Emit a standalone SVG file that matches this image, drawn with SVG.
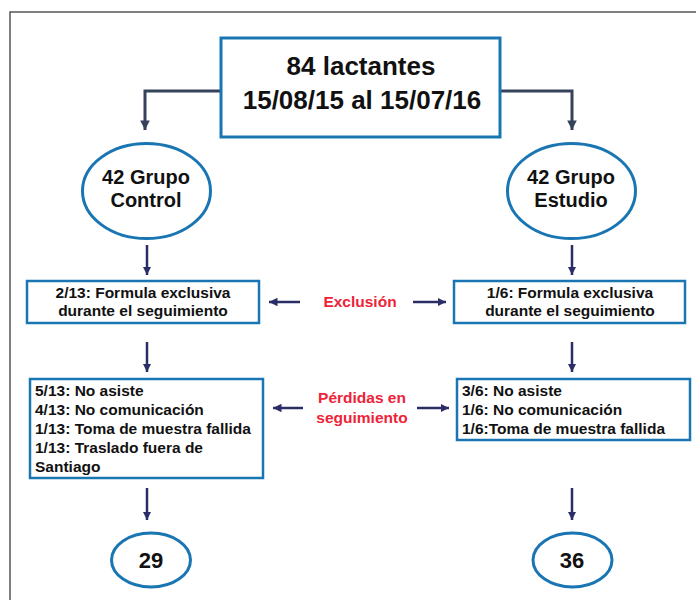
<svg xmlns="http://www.w3.org/2000/svg" width="696" height="600" viewBox="0 0 696 600">
<defs>
<marker id="ah" viewBox="0 0 10 10" refX="10" refY="5" markerWidth="3.4" markerHeight="3.4" orient="auto" markerUnits="strokeWidth">
<path d="M0,0 L10,5 L0,10 z" fill="#2b2e66"/>
</marker>
<marker id="ah2" viewBox="0 0 10 10" refX="10" refY="5" markerWidth="3.2" markerHeight="3.2" orient="auto" markerUnits="strokeWidth">
<path d="M0,0 L10,5 L0,10 z" fill="#34425a"/>
</marker>
</defs>
<style>
.frame{fill:none;stroke:#555;stroke-width:1.5}
.box{fill:#fff;stroke:#1a76b3;stroke-width:3}
.sbox{fill:#fff;stroke:#1a76b3;stroke-width:2.5}
.t{font-family:"Liberation Sans",Arial,sans-serif;font-weight:bold;fill:#111}
.s{font-size:15.5px}
.red{font-family:"Liberation Sans",Arial,sans-serif;font-weight:bold;fill:#ee2238;font-size:15.5px;text-anchor:middle}
.c{fill:none;stroke:#2b2e66;stroke-width:2.5;marker-end:url(#ah)}
.ct{fill:none;stroke:#34425a;stroke-width:3;marker-end:url(#ah2)}
</style>
<rect width="696" height="600" fill="#fff"/>
<path class="frame" d="M10,620 L10,12 L710,12"/>
<g id="connectors">
<path class="ct" d="M220,91 L145,91 L145,130"/>
<path class="ct" d="M500,91 L572,91 L572,130"/>
<path class="c" d="M147,245 L147,275"/>
<path class="c" d="M572,245 L572,275"/>
<path class="c" d="M300,302 L269,302"/>
<path class="c" d="M413,302 L446,302"/>
<path class="c" d="M147,342 L147,372"/>
<path class="c" d="M572,342 L572,372"/>
<path class="c" d="M303,408 L273,408"/>
<path class="c" d="M417,408 L449,408"/>
<path class="c" d="M147,488 L147,520"/>
<path class="c" d="M572,488 L572,520"/>
</g>
<g id="top">
<rect class="box" x="221" y="38" width="279" height="99"/>
<text class="t" x="361" y="75" font-size="26" text-anchor="middle">84 lactantes</text>
<text class="t" x="362" y="109" font-size="26" text-anchor="middle">15/08/15 al 15/07/16</text>
</g>
<g id="control">
<ellipse class="box" cx="146.5" cy="191" rx="64" ry="47.5"/>
<text class="t" x="146" y="184" font-size="20" text-anchor="middle">42 Grupo</text>
<text class="t" x="146" y="207" font-size="20" text-anchor="middle">Control</text>
</g>
<g id="estudio">
<ellipse class="box" cx="571.5" cy="191" rx="64" ry="47.5"/>
<text class="t" x="571" y="184" font-size="20" text-anchor="middle">42 Grupo</text>
<text class="t" x="571" y="207" font-size="20" text-anchor="middle">Estudio</text>
</g>
<g id="excl-control">
<rect class="sbox" x="27" y="281" width="232" height="42"/>
<text class="t s" x="143" y="298" text-anchor="middle">2/13: Formula exclusiva</text>
<text class="t s" x="143" y="316" text-anchor="middle">durante el seguimiento</text>
</g>
<g id="excl-estudio">
<rect class="sbox" x="454" y="281" width="231" height="42"/>
<text class="t s" x="570" y="298" text-anchor="middle">1/6: Formula exclusiva</text>
<text class="t s" x="570" y="316" text-anchor="middle">durante el seguimiento</text>
</g>
<g id="exclusion-label">
<text class="red" x="360" y="307">Exclusión</text>
</g>
<g id="perd-control">
<rect class="sbox" x="30" y="379" width="233" height="99"/>
<text class="t s" x="35" y="396">5/13: No asiste</text>
<text class="t s" x="35" y="415">4/13: No comunicación</text>
<text class="t s" x="35" y="434">1/13: Toma de muestra fallida</text>
<text class="t s" x="35" y="453">1/13: Traslado fuera de</text>
<text class="t s" x="35" y="472">Santiago</text>
</g>
<g id="perd-estudio">
<rect class="sbox" x="457" y="379" width="233" height="61"/>
<text class="t s" x="462" y="396">3/6: No asiste</text>
<text class="t s" x="462" y="415">1/6: No comunicación</text>
<text class="t s" x="462" y="434">1/6:Toma de muestra fallida</text>
</g>
<g id="perdidas-label">
<text class="red" x="362" y="403">Pérdidas en</text>
<text class="red" x="362" y="423">seguimiento</text>
</g>
<g id="n29">
<ellipse class="box" cx="151" cy="560" rx="39.5" ry="27"/>
<text class="t" x="151" y="568" font-size="22" text-anchor="middle">29</text>
</g>
<g id="n36">
<ellipse class="box" cx="572.5" cy="560" rx="39.5" ry="27"/>
<text class="t" x="572" y="568" font-size="22" text-anchor="middle">36</text>
</g>
</svg>
